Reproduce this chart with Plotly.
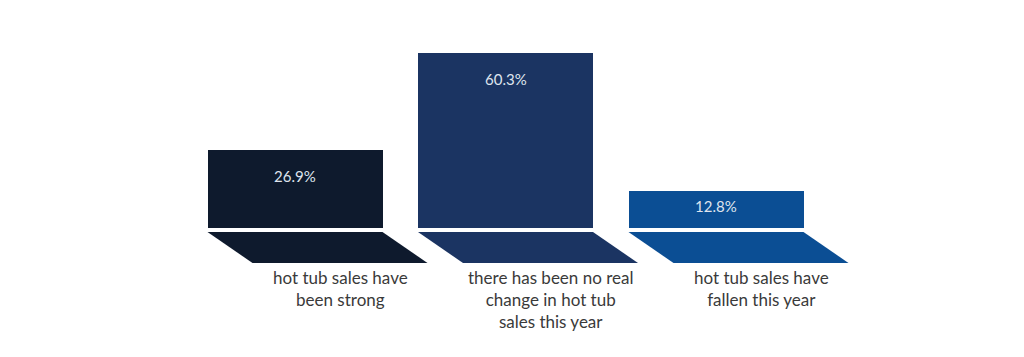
import plotly.graph_objects as go

categories = ["hot tub sales have<br>been strong",
              "there has been no real<br>change in hot tub<br>sales this year",
              "hot tub sales have<br>fallen this year"]
values = [26.9, 60.3, 12.8]
value_labels = ["26.9%", "60.3%", "12.8%"]
colors = ["#0e1a2d", "#1b3462", "#0b4e94"]

PAGE_OFF = 8
W, H = 1016, 349
px_per_unit_x = 210.5
px_per_unit_y = 2.9
baseline_px = 228 - PAGE_OFF
x0 = -(295 - PAGE_OFF) / px_per_unit_x
x1 = x0 + W / px_per_unit_x
y1 = baseline_px / px_per_unit_y
y0 = -(H - baseline_px) / px_per_unit_y

bar_w = 175 / px_per_unit_x
shift = 45 / px_per_unit_x
gap_top = -4 / px_per_unit_y
gap_bot = -35 / px_per_unit_y

xs = list(range(len(values)))
fig = go.Figure()
fig.add_trace(go.Bar(x=xs, y=values, width=bar_w, marker=dict(color=colors, line=dict(width=0)),
                     hoverinfo="skip", showlegend=False))

for i, c in zip(xs, colors):
    l, r = i - bar_w / 2, i + bar_w / 2
    fig.add_trace(go.Scatter(
        x=[l, r, r + shift, l + shift, l],
        y=[gap_top, gap_top, gap_bot, gap_bot, gap_top],
        fill="toself", fillcolor=c, mode="lines", line=dict(width=0, color=c),
        hoverinfo="skip", showlegend=False))

for i, v, t in zip(xs, values, value_labels):
    off = min(26, v * px_per_unit_y * 0.4)
    fig.add_annotation(x=i, y=v, text=t, showarrow=False, yanchor="middle", yshift=-off,
                       font=dict(family="Lato, sans-serif", size=15, color="#dfe4ee"))

for i, cat in zip(xs, categories):
    fig.add_annotation(x=i + shift, y=gap_bot - 2 / px_per_unit_y, text=cat, showarrow=False,
                       yanchor="top", xanchor="center", align="center",
                       font=dict(family="Lato, sans-serif", size=17, color="#3a3a3a"))

fig.update_layout(
    width=W, height=H, margin=dict(l=0, r=0, t=0, b=0),
    paper_bgcolor="white", plot_bgcolor="white",
    xaxis=dict(range=[x0, x1], visible=False, fixedrange=True),
    yaxis=dict(range=[y0, y1], visible=False, fixedrange=True),
    bargap=0,
)
fig.write_html("out.html")
